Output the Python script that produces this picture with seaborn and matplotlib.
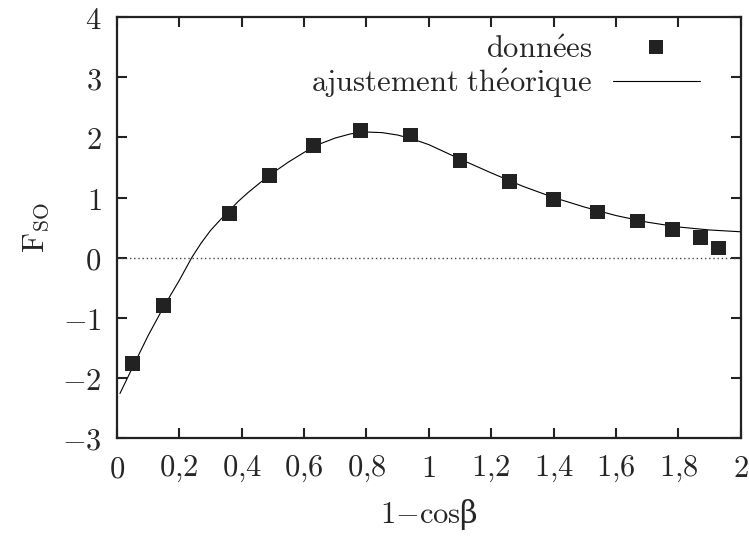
import numpy as np
import pandas as pd
import seaborn as sns
from matplotlib import pyplot as plt
from matplotlib.lines import Line2D
from matplotlib.ticker import FixedLocator, FuncFormatter

# measured points (1 - cos beta, F_SO)
x_data = [0.05, 0.15, 0.36, 0.49, 0.63, 0.78, 0.94, 1.10, 1.26, 1.40, 1.54, 1.67, 1.78, 1.87, 1.93]
y_data = [-1.76, -0.80, 0.73, 1.36, 1.86, 2.12, 2.04, 1.62, 1.26, 0.96, 0.76, 0.61, 0.47, 0.33, 0.16]

# theoretical fit curve
x_fit = [0.01, 0.05, 0.10, 0.15, 0.20, 0.24, 0.27, 0.30, 0.33, 0.36, 0.39, 0.42, 0.46, 0.50,
         0.55, 0.60, 0.65, 0.70, 0.75, 0.80, 0.85, 0.90, 0.95, 1.00, 1.05, 1.10, 1.20, 1.30,
         1.40, 1.50, 1.60, 1.70, 1.80, 1.90, 2.00]
y_fit = [-2.26, -1.83, -1.30, -0.82, -0.38, 0.0, 0.24, 0.45, 0.62, 0.78, 0.94, 1.08, 1.25, 1.41,
         1.59, 1.75, 1.89, 1.99, 2.06, 2.09, 2.08, 2.04, 1.97, 1.88, 1.76, 1.64, 1.41, 1.19,
         1.00, 0.84, 0.70, 0.59, 0.51, 0.46, 0.43]

x_ticks = [0, 0.2, 0.4, 0.6, 0.8, 1, 1.2, 1.4, 1.6, 1.8, 2]
y_ticks = [-3, -2, -1, 0, 1, 2, 3, 4]

lbl_data = r"$\mathrm{donn\acute{e}es}$"
lbl_fit = r"$\mathrm{ajustement\ th\acute{e}orique}$"

sns.set_style("ticks")
plt.rcParams["mathtext.fontset"] = "cm"
plt.rcParams["font.family"] = ["DejaVu Serif"]

df_data = pd.DataFrame({"x": x_data, "y": y_data})
df_fit = pd.DataFrame({"x": x_fit, "y": y_fit})

fig, ax = plt.subplots(figsize=(7.49, 5.38), dpi=100)
fig.subplots_adjust(left=0.156, right=0.989, top=0.968, bottom=0.186)

ax.axhline(0, color="#444444", lw=1.0, ls=(0, (1, 2)), zorder=1)
sns.lineplot(data=df_fit, x="x", y="y", ax=ax, color="black", lw=0.8, sort=False,
             estimator=None, legend=False, zorder=2)
sns.scatterplot(data=df_data, x="x", y="y", ax=ax, marker="s", s=115, color="#222222",
                edgecolor="none", legend=False, zorder=3)

ax.set_xlim(0, 2)
ax.set_ylim(-3, 4)
ax.xaxis.set_major_locator(FixedLocator(x_ticks))
ax.yaxis.set_major_locator(FixedLocator(y_ticks))
ax.xaxis.set_major_formatter(FuncFormatter(lambda v, p: "$%s$" % ("%g" % v).replace(".", "{,}")))
ax.yaxis.set_major_formatter(FuncFormatter(lambda v, p: "$%g$" % v))
ax.tick_params(direction="in", length=7, width=1.5, labelsize=22, top=True, right=True,
               color="#222222")
ax.tick_params(axis="x", pad=11)
ax.tick_params(axis="y", pad=11)
for sp in ax.spines.values():
    sp.set_linewidth(1.6)
    sp.set_color("#222222")

ax.set_xlabel(r"$1\mathrm{-cos}$" + "β", fontsize=22, labelpad=9)
ax.set_ylabel(r"$\mathrm{F}_{\mathrm{SO}}$", fontsize=22, labelpad=8)

handles = [Line2D([], [], marker="s", ls="none", markersize=10.7, color="#222222", mew=0),
           Line2D([], [], color="black", lw=0.8)]
ax.legend(handles, [lbl_data, lbl_fit], loc="upper right", frameon=False, markerfirst=False,
          fontsize=22, handlelength=2.85, handletextpad=0.65, labelspacing=0.03,
          borderaxespad=0.6, bbox_to_anchor=(0.983, 1.033))

plt.savefig("out.png", dpi=100)
